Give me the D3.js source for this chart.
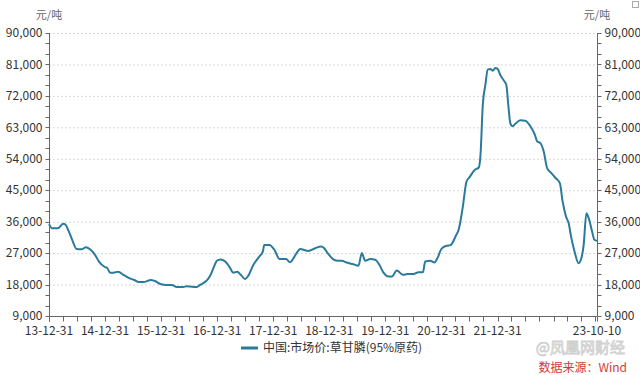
<!DOCTYPE html>
<html>
<head>
<meta charset="utf-8">
<script src="https://cdn.jsdelivr.net/npm/d3@7"></script>
<style>
  body { margin: 0; background: #fff; }
  svg text { font-family: "Noto Sans CJK SC", "Noto Sans", sans-serif; }
</style>
</head>
<body>
<div class="chart"></div>
<script>
// glyphosate (95% technical) market price, yuan/ton
const dates = [
  "2013-12-31","2014-01-21","2014-02-26","2014-04-02","2014-04-18","2014-05-09","2014-05-31","2014-06-29",
  "2014-07-31","2014-08-29","2014-09-24","2014-10-27","2014-11-24","2014-12-27","2015-01-15","2015-02-02",
  "2015-02-24","2015-03-27","2015-04-29","2015-05-31","2015-07-09","2015-08-09","2015-09-06","2015-10-26",
  "2015-11-21","2015-12-31","2016-02-06","2016-03-09","2016-04-11","2016-05-24","2016-06-15","2016-08-20",
  "2016-09-11","2016-10-20","2016-11-15","2016-12-06","2016-12-29","2017-01-20","2017-02-21","2017-03-20",
  "2017-04-15","2017-05-11","2017-06-02","2017-06-30","2017-07-21","2017-08-23","2017-10-01","2017-10-24",
  "2017-11-02","2017-12-06","2018-01-08","2018-02-10","2018-03-24","2018-04-19","2018-05-28","2018-06-24",
  "2018-08-17","2018-09-30","2018-11-06","2018-11-28","2018-12-20","2019-01-24","2019-02-28","2019-03-22",
  "2019-04-24","2019-06-06","2019-07-09","2019-07-31","2019-08-22","2019-09-24","2019-10-26","2019-11-23",
  "2019-12-19","2020-01-21","2020-02-12","2020-03-15","2020-04-23","2020-05-23","2020-07-01","2020-08-03",
  "2020-09-01","2020-09-16","2020-10-19","2020-11-15","2020-12-06","2020-12-29","2021-02-01","2021-02-28",
  "2021-04-06","2021-04-21","2021-05-18","2021-06-12","2021-07-03","2021-08-04","2021-08-31","2021-09-11",
  "2021-09-26","2021-10-13","2021-10-28","2021-11-15","2021-11-30","2021-12-17","2022-01-01","2022-01-19",
  "2022-02-10","2022-02-26","2022-03-13","2022-03-24","2022-04-08","2022-04-26","2022-05-28","2022-06-30",
  "2022-08-02","2022-08-31","2022-09-15","2022-10-06","2022-10-28","2022-11-19","2022-12-17","2023-01-13",
  "2023-02-10","2023-02-28","2023-03-22","2023-04-08","2023-04-26","2023-05-17","2023-06-12","2023-06-30",
  "2023-07-15","2023-08-02","2023-08-17","2023-09-08","2023-09-23","2023-10-10"
];
const prices = [
  35300,34100,34100,35400,35100,33200,30800,28200,
  28100,28700,28100,26500,24400,23100,22700,21400,
  21400,21700,20800,20000,19300,18700,18700,19300,
  19000,18100,17900,17900,17300,17300,17500,17300,
  17900,19000,20500,22700,24800,25200,24600,23100,
  21400,21700,20800,19600,20500,23600,26000,27400,
  29300,29300,27900,25300,25300,24400,26700,28200,
  27600,28400,28900,28400,27000,25300,24800,24800,
  24300,23800,23400,27000,24800,25300,25100,23600,
  21400,20300,20300,22000,20800,21000,21000,21500,
  21500,24600,24800,24300,25700,28100,29100,29300,
  32200,33600,40000,47500,48800,50800,51500,55100,
  69500,75200,79500,79700,79200,80000,79700,77900,
  76400,75200,68500,64200,63300,64000,65000,64900,
  63300,60900,59000,58500,56100,51300,49900,48500,
  47000,41800,37500,35600,31300,27400,24100,25500,
  29300,38400,37000,33200,30800,30500
];
const yTicks = [9000, 18000, 27000, 36000, 45000, 54000, 63000, 72000, 81000, 90000];
const xTickLabels = ["2013-12-31","2014-12-31","2015-12-31","2016-12-31","2017-12-31",
  "2018-12-31","2019-12-31","2020-12-31","2021-12-31","2023-10-10"];
const unitLabel = "元/吨";
const seriesName = "中国:市场价:草甘膦(95%原药)";

const parse = d3.timeParse("%Y-%m-%d");
const fmt = d3.timeFormat("%y-%m-%d");
const data = dates.map((d, i) => ({date: parse(d), value: prices[i]}));

const W = 640, H = 375;
const margin = {top: 33, right: 43, bottom: 59, left: 49},
  width = W - margin.left - margin.right,
  height = H - margin.top - margin.bottom;

const root = d3.select(".chart")
  .append("svg")
    .attr("width", W)
    .attr("height", H);

const svg = root.append("g")
  .attr("transform", "translate(" + margin.left + "," + margin.top + ")");

const x = d3.scaleTime()
  .domain([parse(xTickLabels[0]), parse(xTickLabels[xTickLabels.length - 1])])
  .range([0, width]);

const y = d3.scaleLinear()
  .domain([9000, 90000])
  .range([height, 0]);

const axisColor = "#666";

// grid lines
svg.append("g")
  .selectAll("line")
  .data(yTicks.slice(1))
  .join("line")
    .attr("x1", 0)
    .attr("x2", width)
    .attr("y1", d => y(d) + 0.5)
    .attr("y2", d => y(d) + 0.5)
    .attr("stroke", "#d8d8d8")
    .attr("stroke-dasharray", "2,2");

// minor ticks every 3000
const minorY = d3.range(9000, 90001, 3000);

function drawYAxis(side) {
  const g = svg.append("g")
    .attr("transform", side == "left" ? "translate(0.5,0)" : "translate(" + (width + 0.5) + ",0)");
  const dir = side == "left" ? -1 : 1;
  g.append("line")
    .attr("y1", 0).attr("y2", height)
    .attr("stroke", axisColor);
  g.selectAll(".minor")
    .data(minorY)
    .join("line")
      .attr("y1", d => Math.round(y(d)) + 0.5)
      .attr("y2", d => Math.round(y(d)) + 0.5)
      .attr("x2", dir * 4)
      .attr("stroke", axisColor);
  g.selectAll("text")
    .data(yTicks)
    .join("text")
      .attr("x", dir * 7)
      .attr("y", d => y(d))
      .attr("dy", "0.35em")
      .attr("text-anchor", side == "left" ? "end" : "start")
      .style("font-size", "12px")
      .attr("fill", "#333")
      .text(d => d3.format(",")(d));
  root.append("text")
    .attr("x", side == "left" ? margin.left : margin.left + width)
    .attr("y", 19)
    .attr("text-anchor", "middle")
    .style("font-size", "11px")
    .attr("fill", "#666")
    .text(unitLabel);
}
drawYAxis("left");
drawYAxis("right");

// x axis with quarterly ticks
const xAxisG = svg.append("g")
  .attr("transform", "translate(0," + (height + 0.5) + ")");
xAxisG.append("line")
  .attr("x1", 0).attr("x2", width)
  .attr("stroke", axisColor);
const quarterTicks = d3.timeMonth.every(3)
  .range(d3.timeDay.offset(x.domain()[0], 1), x.domain()[1])
  .map(d => d3.timeDay.offset(d, -1));
quarterTicks.push(x.domain()[0], x.domain()[1]);
xAxisG.selectAll(".qt")
  .data(quarterTicks)
  .join("line")
    .attr("x1", d => Math.round(x(d)) + 0.5)
    .attr("x2", d => Math.round(x(d)) + 0.5)
    .attr("y2", 5)
    .attr("stroke", axisColor);
xAxisG.selectAll("text")
  .data(xTickLabels.map(parse))
  .join("text")
    .attr("x", d => x(d))
    .attr("y", 18)
    .attr("text-anchor", "middle")
    .style("font-size", "12px")
    .attr("fill", "#333")
    .text(d => fmt(d));

// the series
const lineColor = "#2a7b9b";
svg.append("path")
  .datum(data)
  .attr("fill", "none")
  .attr("stroke", lineColor)
  .attr("stroke-width", 2)
  .attr("stroke-linejoin", "round")
  .attr("d", d3.line()
    .x(d => x(d.date))
    .y(d => y(d.value))
    .curve(d3.curveMonotoneX));

// legend
root.append("line")
  .attr("x1", 241).attr("x2", 258)
  .attr("y1", 348).attr("y2", 348)
  .attr("stroke", lineColor)
  .attr("stroke-width", 3);
root.append("text")
  .attr("x", 263)
  .attr("y", 352)
  .style("font-size", "12px")
  .attr("fill", "#333")
  .text(seriesName);

// watermark + source
root.append("text")
  .attr("x", 625)
  .attr("y", 353)
  .attr("text-anchor", "end")
  .style("font-size", "15px")
  .attr("fill", "#f2f2f2")
  .attr("stroke", "#cfcfcf")
  .attr("stroke-width", 0.8)
  .text("@凤凰网财经");
root.append("text")
  .attr("x", 627)
  .attr("y", 372)
  .attr("text-anchor", "end")
  .style("font-size", "12px")
  .attr("fill", "#d23a3a")
  .text("数据来源：Wind");

// small corner icon
root.append("rect")
  .attr("x", 632.5).attr("y", 1.5)
  .attr("width", 6).attr("height", 6)
  .attr("fill", "none")
  .attr("stroke", "#aaa");
</script>
</body>
</html>
